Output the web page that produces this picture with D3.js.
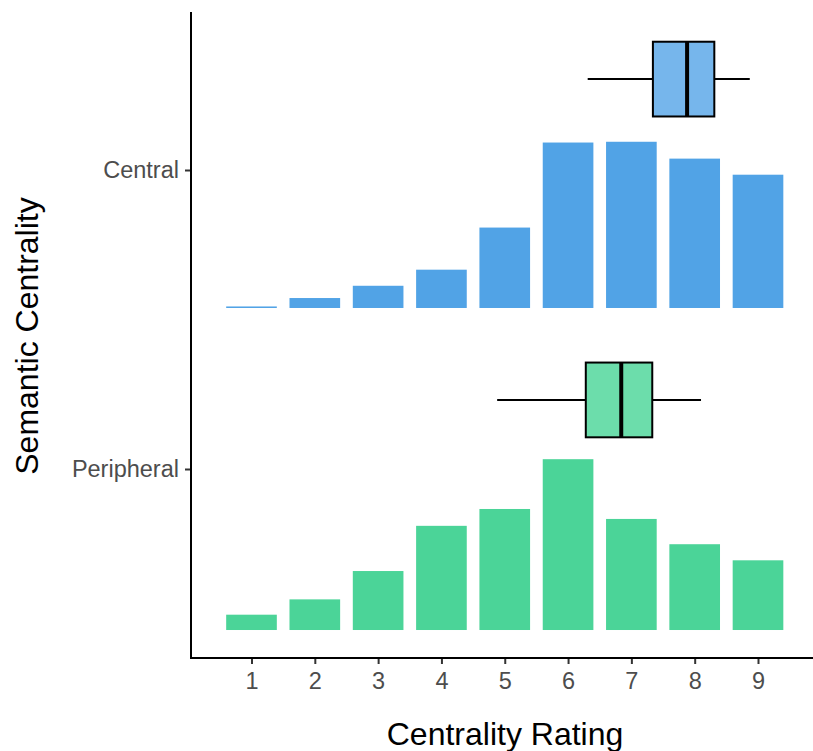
<!DOCTYPE html>
<html>
<head>
<meta charset="utf-8">
<script src="https://cdn.jsdelivr.net/npm/d3@7"></script>
<style>
  html, body { margin: 0; padding: 0; background: #fff; }
  svg { display: block; }
</style>
</head>
<body>
<svg id="chart" width="813" height="751"></svg>
<script>
// Rating categories and group names
const ratings = [1, 2, 3, 4, 5, 6, 7, 8, 9];
const groups = ["Peripheral", "Central"];

// Share of responses (%) at each rating, per group
const centralPct    = [0.2, 1.3, 2.9, 5.0, 10.5, 21.6, 21.7, 19.5, 17.4];
const peripheralPct = [2.0, 4.0, 7.7, 13.6, 15.8, 22.3, 14.5, 11.2, 9.1];

// Box plot summaries: [lower whisker, Q1, median, Q3, upper whisker]
const centralBox    = [6.31, 7.34, 7.88, 8.31, 8.87];
const peripheralBox = [4.88, 6.28, 6.84, 7.33, 8.10];

// Tick labels
const xTickLabels = ["1", "2", "3", "4", "5", "6", "7", "8", "9"];
const yTickLabels = ["Peripheral", "Central"];

const svg = d3.select("#chart");

// Panel layout
const panel = { left: 191, right: 813, top: 12, bottom: 658 };

const x = d3.scaleLinear().domain([1, 9]).range([251.5, 758]);
// Continuous y: Peripheral at 1, Central at 2
const y = d3.scaleLinear().domain([1, 2]).range([469, 170]);
// Bar height scale (percent -> pixels)
const h = d3.scaleLinear().domain([0, 100]).range([0, 766]);

// Offsets of each group's baseline and box relative to its category line
const layout = {
  Central:    { base: -0.4615, box: 0.304, fill: "#51A3E6", boxFill: "#76B6EC" },
  Peripheral: { base: -0.5385, box: 0.231, fill: "#4BD498", boxFill: "#6CDDAB" }
};

const series = [
  { name: "Central", pct: centralPct, box: centralBox, pos: 2 },
  { name: "Peripheral", pct: peripheralPct, box: peripheralBox, pos: 1 }
];

const barW = (x(2) - x(1)) * 0.8;
const boxH = y(1) - y(1.25);

series.forEach(s => {
  const L = layout[s.name];
  const baseY = y(s.pos + L.base);
  svg.append("g").selectAll("rect")
    .data(ratings.map((r, i) => ({ r, v: s.pct[i] })))
    .join("rect")
    .attr("x", d => x(d.r) - barW / 2)
    .attr("y", d => baseY - h(d.v))
    .attr("width", barW)
    .attr("height", d => h(d.v))
    .attr("fill", L.fill);

  // Box plot
  const cy = y(s.pos + L.box);
  const [lo, q1, med, q3, hi] = s.box;
  const g = svg.append("g");
  g.append("line").attr("x1", x(lo)).attr("x2", x(q1)).attr("y1", cy).attr("y2", cy)
    .attr("stroke", "#000").attr("stroke-width", 2);
  g.append("line").attr("x1", x(q3)).attr("x2", x(hi)).attr("y1", cy).attr("y2", cy)
    .attr("stroke", "#000").attr("stroke-width", 2);
  g.append("rect").attr("x", x(q1)).attr("y", cy - boxH / 2)
    .attr("width", x(q3) - x(q1)).attr("height", boxH)
    .attr("fill", L.boxFill).attr("stroke", "#000").attr("stroke-width", 2);
  g.append("line").attr("x1", x(med)).attr("x2", x(med))
    .attr("y1", cy - boxH / 2).attr("y2", cy + boxH / 2)
    .attr("stroke", "#000").attr("stroke-width", 4);
});

const font = "'Liberation Sans', Arial, sans-serif";

// X axis
const xAxis = d3.axisBottom(x).tickValues(ratings)
  .tickFormat((d, i) => xTickLabels[i]).tickSize(6).tickPadding(8);
const gx = svg.append("g").attr("transform", `translate(0,${panel.bottom})`).call(xAxis);
gx.select(".domain").remove();
gx.selectAll(".tick line").attr("stroke", "#333").attr("stroke-width", 2);
gx.selectAll(".tick text").attr("fill", "#4D4D4D")
  .style("font-family", font).style("font-size", "23.5px");

// Y axis
const yAxis = d3.axisLeft(y).tickValues([1, 2])
  .tickFormat((d, i) => yTickLabels[i]).tickSize(6).tickPadding(6);
const gy = svg.append("g").attr("transform", `translate(${panel.left},0)`).call(yAxis);
gy.select(".domain").remove();
gy.selectAll(".tick line").attr("stroke", "#333").attr("stroke-width", 2);
gy.selectAll(".tick text").attr("fill", "#4D4D4D")
  .style("font-family", font).style("font-size", "23.5px");

// Axis lines
svg.append("line").attr("x1", panel.left).attr("x2", panel.left)
  .attr("y1", panel.top).attr("y2", panel.bottom + 1)
  .attr("stroke", "#000").attr("stroke-width", 2);
svg.append("line").attr("x1", panel.left - 1).attr("x2", panel.right)
  .attr("y1", panel.bottom).attr("y2", panel.bottom)
  .attr("stroke", "#000").attr("stroke-width", 2);

// Axis titles
svg.append("text").attr("x", 505).attr("y", 745)
  .attr("text-anchor", "middle")
  .style("font-family", font).style("font-size", "32px")
  .text("Centrality Rating");
svg.append("text")
  .attr("transform", `translate(38,336) rotate(-90)`)
  .attr("text-anchor", "middle")
  .style("font-family", font).style("font-size", "32px")
  .text("Semantic Centrality");
</script>
</body>
</html>
